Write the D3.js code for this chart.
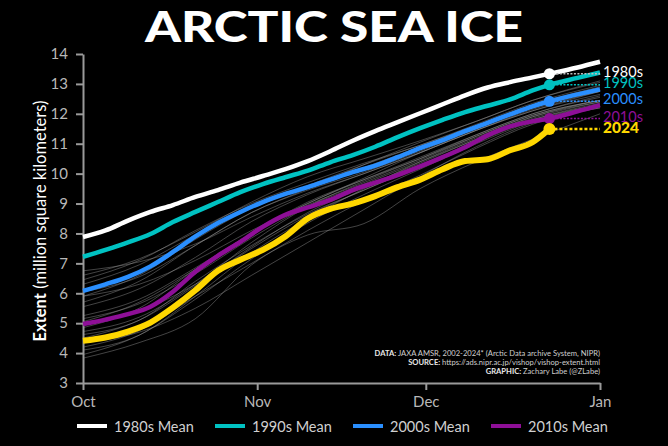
<!DOCTYPE html>
<html>
<head>
<meta charset="utf-8">
<script src="https://cdn.jsdelivr.net/npm/d3@7"></script>
<style>
  body { margin: 0; background: #000; }
  svg { display: block; font-family: Lato, "Open Sans", sans-serif; }
</style>
</head>
<body>
<script>
// Dias desde el 1 de octubre (malla de las medias decadales y 2024)
var dias = [0,4,8,12,16,20,24,28,32,36,40,44,48,52,56,60,64,68,72,76,80,83,88,92];
var diaActual = 83;

// Medias decadales (millones de km2)
var media1980s = [7.88,8.10,8.43,8.72,8.95,9.22,9.45,9.70,9.92,10.15,10.42,10.75,11.10,11.42,11.72,12.02,12.32,12.62,12.88,13.06,13.22,13.34,13.55,13.74];
var media1990s = [7.22,7.45,7.70,7.98,8.38,8.72,9.05,9.38,9.65,9.88,10.10,10.38,10.62,10.90,11.22,11.52,11.80,12.06,12.27,12.48,12.78,12.97,13.20,13.38];
var media2000s = [6.08,6.30,6.55,6.90,7.38,7.90,8.35,8.72,9.05,9.32,9.55,9.80,10.05,10.27,10.55,10.85,11.12,11.42,11.70,11.98,12.25,12.42,12.65,12.82];
var media2010s = [4.97,5.12,5.30,5.55,6.05,6.72,7.25,7.72,8.22,8.62,8.87,9.12,9.45,9.70,9.95,10.24,10.55,10.88,11.28,11.58,11.75,11.84,12.08,12.29];
// 2024 (hasta el dia 83)
var extension2024 = [4.41,4.52,4.72,5.02,5.52,6.10,6.75,7.12,7.45,7.90,8.50,8.82,9.00,9.25,9.55,9.80,10.15,10.42,10.48,10.78,11.05,11.49];

// Años individuales 2002-2023 (lineas grises), malla mas gruesa
var diasGris = [0,10,20,30,40,50,60,70,80,92];
var aniosGris = [2002,2003,2004,2005,2006,2007,2008,2009,2010,2011,2012,2013,2014,2015,2016,2017,2018,2019,2020,2021,2022,2023];
var extensionGris = [
  [6.30,6.95,7.95,8.85,9.55,10.20,10.90,11.60,12.30,12.90],
  [6.45,7.10,8.10,9.00,9.70,10.35,10.95,11.65,12.35,12.95],
  [6.60,7.15,8.05,9.05,9.90,10.50,11.10,11.75,12.45,13.10],
  [6.05,6.55,7.60,8.70,9.45,10.05,10.75,11.50,12.20,12.80],
  [6.75,7.05,7.65,8.55,9.35,10.00,10.70,11.45,12.10,12.75],
  [4.72,5.20,6.30,7.70,8.90,9.75,10.50,11.30,12.00,12.60],
  [5.70,6.40,7.60,8.70,9.50,10.30,11.05,11.75,12.45,13.05],
  [5.90,6.30,7.10,8.10,9.00,9.85,10.70,11.45,12.15,12.75],
  [5.05,5.70,6.80,8.00,9.00,9.80,10.55,11.30,12.00,12.55],
  [4.62,5.10,6.40,7.60,8.65,9.45,10.25,11.05,11.80,12.35],
  [4.10,4.60,5.90,7.35,8.50,9.50,10.40,11.20,11.90,12.40],
  [5.90,6.60,7.80,8.85,9.60,10.30,10.95,11.60,12.25,12.75],
  [5.55,6.15,7.20,8.40,9.30,10.00,10.70,11.45,12.10,12.65],
  [5.15,5.65,6.65,7.85,8.90,9.65,10.40,11.15,11.90,12.45],
  [4.35,4.70,5.50,6.60,7.70,8.80,9.90,10.90,11.70,12.20],
  [5.25,5.80,6.85,8.00,8.95,9.70,10.45,11.25,11.95,12.45],
  [4.95,5.40,6.30,7.50,8.60,9.45,10.25,11.10,11.80,12.30],
  [4.20,4.75,5.90,7.00,8.10,9.10,9.95,10.85,11.65,12.20],
  [3.83,4.35,5.15,6.95,7.95,8.33,9.50,10.40,11.15,12.00],
  [4.85,5.50,6.80,8.00,9.05,9.80,10.50,11.25,11.95,12.45],
  [4.50,5.10,6.25,7.55,8.70,9.55,10.35,11.15,11.85,12.40],
  [3.95,4.60,5.80,7.15,8.35,9.30,10.15,11.00,11.75,12.30]
];

// Series principales
var nombres = ["1980s","1990s","2000s","2010s","2024"];
var colores = ["#ffffff","#00c2c2","#2a8fff","#8e0f97","#ffd700"];
var valores = [media1980s, media1990s, media2000s, media2010s, extension2024];
var leyenda = ["1980s Mean","1990s Mean","2000s Mean","2010s Mean"];
var mesesTicks = ["2024-10-01","2024-11-01","2024-12-01","2025-01-01"];

var W = 668, H = 446;
var inicio = new Date(Date.UTC(2024, 9, 1));
function fecha(d) { return d3.utcDay.offset(inicio, d); }

var svg = d3.select("body").append("svg").attr("width", W).attr("height", H);
svg.append("rect").attr("width", W).attr("height", H).attr("fill", "#000");

var x = d3.scaleUtc().domain([inicio, new Date(Date.UTC(2025, 0, 1))]).range([83, 600]);
var y = d3.scaleLinear().domain([3, 14]).range([383, 54]);

// Titulo
svg.append("text")
   .attr("x", 334).attr("y", 42)
   .attr("text-anchor", "middle")
   .attr("fill", "#fff")
   .attr("font-size", 42).attr("font-weight", 900)
   .attr("textLength", 378).attr("lengthAdjust", "spacingAndGlyphs")
   .text("ARCTIC SEA ICE");

// Ejes
var ejeY = svg.append("g")
   .attr("transform", "translate(83,0)")
   .call(d3.axisLeft(y).tickValues(d3.range(3, 15)).tickSize(7).tickSizeOuter(0).tickPadding(8));
var ejeX = svg.append("g")
   .attr("transform", "translate(0,383)")
   .call(d3.axisBottom(x).tickValues(mesesTicks.map(function(s) { return new Date(s); }))
           .tickFormat(d3.utcFormat("%b")).tickSize(7).tickSizeOuter(0).tickPadding(6));
[ejeY, ejeX].forEach(function(g) {
    g.selectAll("path, line").attr("stroke", "#9a9a9a").attr("stroke-width", 2);
    g.selectAll("text").attr("fill", "#b8b8b8").attr("font-size", 15).attr("font-family", "Lato, sans-serif");
});

// Titulo eje Y
var ty = svg.append("text")
   .attr("transform", "translate(46,221) rotate(-90)")
   .attr("text-anchor", "middle")
   .attr("fill", "#fff").attr("font-size", 16.5);
ty.append("tspan").attr("font-weight", 700).text("Extent");
ty.append("tspan").text(" (million square kilometers)");

// Lineas grises por año
var lineaGris = d3.line()
    .x(function(d, i) { return x(fecha(diasGris[i])); })
    .y(function(d) { return y(d); })
    .curve(d3.curveMonotoneX);
svg.append("g").selectAll("path")
   .data(extensionGris)
   .enter().append("path")
   .attr("d", lineaGris)
   .attr("fill", "none")
   .attr("stroke", "#9a9a9a")
   .attr("stroke-opacity", 0.55)
   .attr("stroke-width", 0.8);

// Creditos
var creditos = [["DATA: ", "JAXA AMSR, 2002-2024* (Arctic Data archive System, NIPR)"],
                ["SOURCE: ", "https://ads.nipr.ac.jp/vishop/vishop-extent.html"],
                ["GRAPHIC: ", "Zachary Labe (@ZLabe)"]];
creditos.forEach(function(c, i) {
    var t = svg.append("text")
       .attr("x", 600).attr("y", 356 + i * 9)
       .attr("text-anchor", "end")
       .attr("font-size", 7.6).attr("fill", "#cfcfcf");
    t.append("tspan").attr("font-weight", 700).attr("fill", "#e8e8e8").text(c[0]);
    t.append("tspan").text(c[1]);
});

// Lineas principales
var linea = d3.line()
    .x(function(d, i) { return x(fecha(dias[i])); })
    .y(function(d) { return y(d); })
    .curve(d3.curveMonotoneX);
var idx = dias.indexOf(diaActual);

valores.forEach(function(v, k) {
    var es2024 = (k === 4);
    svg.append("path")
       .datum(v)
       .attr("d", linea)
       .attr("fill", "none")
       .attr("stroke", colores[k])
       .attr("stroke-width", es2024 ? 6 : 4.5)
       .attr("stroke-linejoin", "round");
});

// Linea punteada, punto y etiqueta en el dia actual
valores.forEach(function(v, k) {
    var es2024 = (k === 4);
    var vy = y(v[idx]);
    svg.append("line")
       .attr("x1", x(fecha(diaActual))).attr("x2", x(fecha(92)))
       .attr("y1", vy).attr("y2", vy)
       .attr("stroke", k === 0 ? "#bdbdbd" : colores[k])
       .attr("stroke-width", es2024 ? 2.6 : 1.5)
       .attr("stroke-dasharray", es2024 ? "3,2" : "2,1.5");
    svg.append("circle")
       .attr("cx", x(fecha(diaActual))).attr("cy", vy)
       .attr("r", es2024 ? 6 : 5.5)
       .attr("fill", colores[k]);
    svg.append("text")
       .attr("x", 603).attr("y", vy - 2.5)
       .attr("dominant-baseline", "central")
       .attr("fill", colores[k])
       .attr("font-size", es2024 ? 15.5 : 14.5)
       .attr("font-weight", es2024 ? 900 : 400)
       .text(nombres[k]);
});

// Leyenda
var leg = svg.append("g").selectAll("g")
   .data(leyenda)
   .enter().append("g")
   .attr("transform", function(d, i) { return "translate(" + (77 + i * 138) + ",426)"; });
leg.append("line")
   .attr("x1", 0).attr("x2", 30)
   .attr("stroke", function(d, i) { return colores[i]; })
   .attr("stroke-width", 4);
leg.append("text")
   .attr("x", 37)
   .attr("dominant-baseline", "central")
   .attr("fill", "#d0d0d0")
   .attr("font-size", 14.5)
   .text(function(d) { return d; });
</script>
</body>
</html>
